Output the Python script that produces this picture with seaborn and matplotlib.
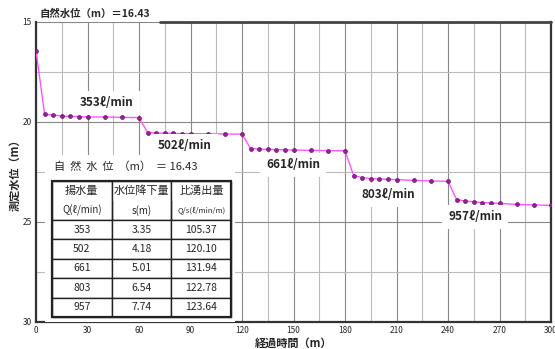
import pandas as pd
import numpy as np
import matplotlib
matplotlib.use("Agg")
import matplotlib.pyplot as plt
import seaborn as sns

# elapsed time (min) and measured water level (m)
minutes = [0,
           5, 10, 15, 20, 25, 30, 40, 50, 60,
           65, 70, 75, 80, 85, 90, 100, 110, 120,
           125, 130, 135, 140, 145, 150, 160, 170, 180,
           185, 190, 195, 200, 205, 210, 220, 230, 240,
           245, 250, 255, 260, 265, 270, 280, 290, 300]
level = [16.43,
         19.62, 19.65, 19.70, 19.72, 19.73, 19.75, 19.75, 19.77, 19.78,
         20.53, 20.55, 20.56, 20.57, 20.58, 20.58, 20.59, 20.60, 20.61,
         21.33, 21.35, 21.37, 21.38, 21.39, 21.40, 21.42, 21.43, 21.44,
         22.68, 22.78, 22.83, 22.85, 22.87, 22.88, 22.92, 22.95, 22.97,
         23.88, 23.95, 23.99, 24.03, 24.05, 24.07, 24.12, 24.15, 24.17]

# step labels
step_q = [353, 502, 661, 803, 957]
step_t = [41.4, 86.8, 149.7, 205, 255.7]
step_y = [19.05, 21.2, 22.15, 23.65, 24.75]

# table values
drawdown = ["3.35", "4.18", "5.01", "6.54", "7.74"]
specific = ["105.37", "120.10", "131.94", "122.78", "123.64"]

df = pd.DataFrame({"t": minutes, "h": level})

sns.set_style("white")
plt.rcParams['font.family'] = ['Noto Sans CJK JP', 'DejaVu Sans']

fig = plt.figure(figsize=(5.55, 3.49), dpi=100)
ax = fig.add_axes([0.0649, 0.0774, 0.928, 0.8596])

sns.lineplot(data=df, x="t", y="h", ax=ax, color="#ff55ff", lw=1.0,
             marker="o", markersize=2.8, markerfacecolor="#9b1f9b",
             markeredgecolor="#6a0f6a", markeredgewidth=0.5, sort=False,
             zorder=5)

ax.set_xlim(0, 300)
ax.set_ylim(30, 15)
ax.set_xticks(range(0, 301, 30))
ax.set_xticks(range(15, 300, 30), minor=True)
ax.set_yticks([15, 20, 25, 30])
ax.set_yticks([17.5, 22.5, 27.5], minor=True)
ax.grid(True, which="major", color="#888888", lw=0.8)
ax.grid(True, which="minor", color="#bbbbbb", lw=0.8)
ax.tick_params(which="both", length=0, labelsize=6, pad=3)

for s in ["left", "bottom", "right"]:
    ax.spines[s].set_color("#333333")
    ax.spines[s].set_linewidth(1.6)
ax.spines["top"].set_visible(False)
ax.axhline(15, xmin=0.241, xmax=1, color="#444444", lw=2, clip_on=False, zorder=6)

ax.set_xlabel("経過時間（m）", fontsize=8, fontweight="bold", labelpad=1)
ax.set_ylabel("測定水位（m）", fontsize=8, fontweight="bold", labelpad=1)

for q, tx, ty in zip(step_q, step_t, step_y):
    ax.text(tx, ty, f"{q}ℓ/min", fontsize=8.5, fontweight="bold", ha="center",
            va="center", zorder=7,
            bbox=dict(facecolor="white", edgecolor="none", pad=4))

fig.text(0.072, 0.96, "自然水位（m）＝16.43", fontsize=7.5, fontweight="bold",
         ha="left", va="center",
         bbox=dict(facecolor="white", edgecolor="none", pad=2))

# white panel behind table
ax.add_patch(plt.Rectangle((0.0175, 0.0), 0.3685, 0.557, transform=ax.transAxes,
                           facecolor="white", edgecolor="none", zorder=3))
ax.text(0.175, 0.517, "自  然  水  位  （m）  ＝ 16.43", transform=ax.transAxes,
        fontsize=8, ha="center", va="center", zorder=8)

cells = [["揚水量", "水位降下量", "比湧出量"],
         ["Q(ℓ/min)", "s(m)", "Q/s(ℓ/min/m)"]]
for q, s, r in zip(step_q, drawdown, specific):
    cells.append([str(q), s, r])

tab = ax.table(cellText=cells, cellLoc="center",
               bbox=[0.031, 0.0167, 0.348, 0.453], zorder=9)
tab.auto_set_font_size(False)
for (r, c), cell in tab.get_celld().items():
    cell.set_linewidth(1.0)
    cell.set_edgecolor("#222222")
    cell.set_facecolor("white")
    txt = cell.get_text()
    txt.set_fontsize(7.5)
    if r == 0:
        cell.visible_edges = "TLR"
        txt.set_fontsize(8)
    elif r == 1:
        cell.visible_edges = "BLR"
        txt.set_fontsize(7 if c < 2 else 5.5)

# thick outer border of the table
ax.add_patch(plt.Rectangle((0.031, 0.0167), 0.348, 0.453, transform=ax.transAxes,
                           facecolor="none", edgecolor="#222222", lw=1.6, zorder=10))

fig.savefig("out.png", dpi=100)
